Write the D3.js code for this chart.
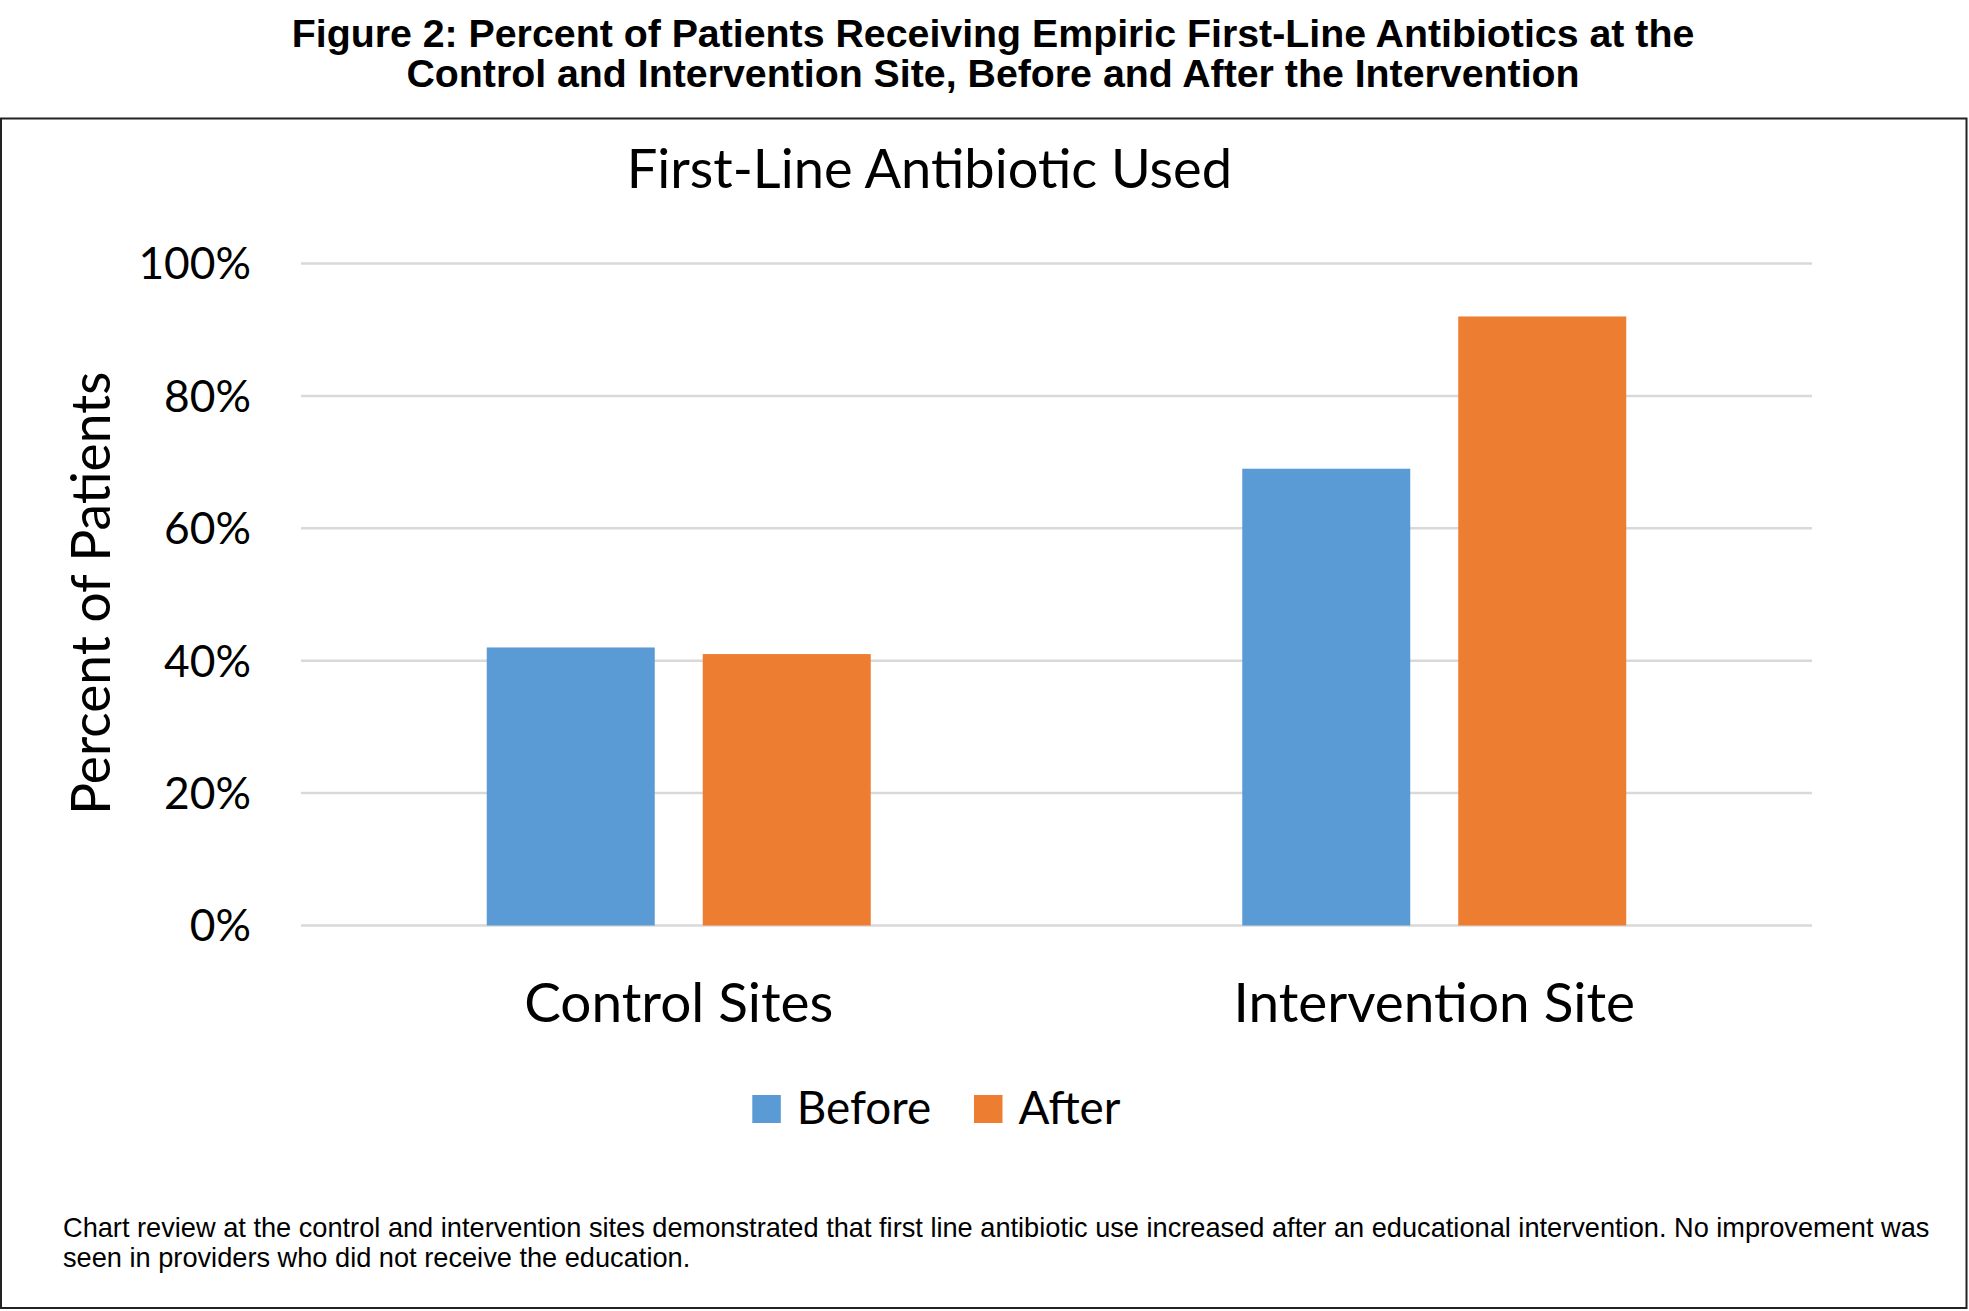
<!DOCTYPE html>
<html><head><meta charset="utf-8">
<script src="https://cdn.jsdelivr.net/npm/d3@7"></script>
<style>html,body{margin:0;padding:0;background:#fff;} svg{display:block;}</style>
</head><body>
<script>
const categories = ["Control Sites", "Intervention Site"];
const seriesNames = ["Before", "After"];
const beforeValues = [0.42, 0.69];
const afterValues = [0.41, 0.92];
const yTicks = [0, 0.2, 0.4, 0.6, 0.8, 1.0];
const figureTitle = ["Figure 2: Percent of Patients Receiving Empiric First-Line Antibiotics at the",
                     "Control and Intervention Site, Before and After the Intervention"];
const chartTitle = "First-Line Antibiotic Used";
const yAxisTitle = "Percent of Patients";
const caption = ["Chart review at the control and intervention sites demonstrated that first line antibiotic use increased after an educational intervention. No improvement was",
                 "seen in providers who did not receive the education."];
const colors = {Before: "#5B9BD5", After: "#ED7D31"};

const W = 1969, H = 1311;
const svg = d3.select("body").append("svg").attr("width", W).attr("height", H);
svg.append("rect").attr("width", W).attr("height", H).attr("fill", "#fff");

const calibri = "Lato, Carlito, Calibri, sans-serif";
const arial = "'Liberation Sans', Arial, sans-serif";

// Figure title
figureTitle.forEach((line, i) => {
  svg.append("text").attr("x", 993).attr("y", 46.5 + i * 40).attr("text-anchor", "middle")
    .attr("font-family", arial).attr("font-weight", "bold").attr("font-size", 39.3).text(line);
});

// Box
svg.append("rect").attr("x", 1).attr("y", 118.5).attr("width", 1965.5).attr("height", 1189.5)
  .attr("fill", "none").attr("stroke", "#222").attr("stroke-width", 2);

// Scales
const x0 = d3.scaleBand().domain(categories).range([301, 1812]).padding(0);
const x1 = d3.scaleBand().domain(seriesNames).range([0, x0.bandwidth()]).paddingInner(0.2222).paddingOuter(0.86);
const y = d3.scaleLinear().domain([0, 1]).range([925.5, 263.5]);

// Gridlines
svg.append("g").selectAll("line").data(yTicks).join("line")
  .attr("x1", 301).attr("x2", 1812).attr("y1", d => y(d)).attr("y2", d => y(d))
  .attr("stroke", "#d9d9d9").attr("stroke-width", 2.5);

// Y tick labels
svg.append("g").selectAll("text").data(yTicks).join("text")
  .attr("x", 251).attr("y", d => y(d)).attr("dy", "0.36em").attr("text-anchor", "end")
  .attr("font-family", calibri).attr("font-size", 44.3).text(d => d3.format(".0%")(d));

// Bars
const rows = categories.map((c, i) => ({cat: c, vals: [{s: "Before", v: beforeValues[i]}, {s: "After", v: afterValues[i]}]}));
svg.append("g").selectAll("g").data(rows).join("g")
  .attr("transform", d => `translate(${x0(d.cat)},0)`)
  .selectAll("rect").data(d => d.vals).join("rect")
  .attr("x", d => x1(d.s)).attr("width", x1.bandwidth())
  .attr("y", d => y(d.v)).attr("height", d => y(0) - y(d.v))
  .attr("fill", d => colors[d.s]);

// Category labels
svg.append("g").selectAll("text").data(categories).join("text")
  .attr("x", d => x0(d) + x0.bandwidth() / 2).attr("y", 1021.7).attr("text-anchor", "middle")
  .attr("font-family", calibri).attr("font-size", 54.9).text(d => d);

// Chart title
svg.append("text").attr("x", 626.7).attr("y", 188.3)
  .attr("font-family", calibri).attr("font-size", 54.2).text(chartTitle);

// Y axis title
svg.append("text").attr("transform", "translate(109.5,593.3) rotate(-90)").attr("text-anchor", "middle")
  .attr("font-family", calibri).attr("font-size", 53.3).text(yAxisTitle);

// Legend
const legend = svg.append("g");
const legX = {Before: 752.3, After: 974};
seriesNames.forEach(s => {
  legend.append("rect").attr("x", legX[s]).attr("y", 1095).attr("width", 28.5).attr("height", 28).attr("fill", colors[s]);
  legend.append("text").attr("x", legX[s] + 44.4).attr("y", 1124)
    .attr("font-family", calibri).attr("font-size", 45.8).text(s);
});

// Caption
caption.forEach((line, i) => {
  svg.append("text").attr("x", 63).attr("y", 1237 + i * 29.5)
    .attr("font-family", arial).attr("font-size", 27.2).text(line);
});
</script>
</body></html>
